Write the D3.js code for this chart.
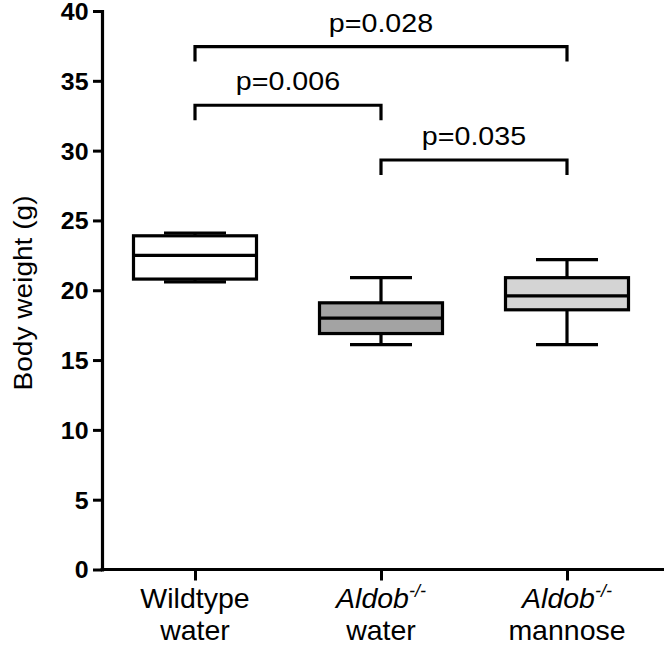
<!DOCTYPE html>
<html>
<head>
<meta charset="utf-8">
<script src="https://cdn.jsdelivr.net/npm/d3@7"></script>
<style>
  html, body { margin: 0; padding: 0; background: #fff; }
  svg { display: block; }
  text { font-family: "Liberation Sans", Arial, Helvetica, sans-serif; fill: #000; }
</style>
</head>
<body>
<script>
// ---- data ----
const categories = ["Wildtype water", "Aldob-/- water", "Aldob-/- mannose"];
const labelLine1 = ["Wildtype", "Aldob", "Aldob"];
const labelItalic = [false, true, true];
const labelSup = ["", "-/-", "-/-"];
const labelLine2 = ["water", "water", "mannose"];
const whiskerLow = [20.6, 16.1, 16.1];
const q1 = [20.8, 16.9, 18.6];
const median = [22.5, 18.0, 19.6];
const q3 = [23.9, 19.1, 20.9];
const whiskerHigh = [24.1, 20.9, 22.2];
const boxFill = ["#ffffff", "#a3a3a3", "#d4d4d4"];
const yTicks = [0, 5, 10, 15, 20, 25, 30, 35, 40];
const pFrom = [0, 0, 1];
const pTo = [2, 1, 2];
const pLevel = [37.45, 33.25, 29.33];
const pLabels = ["p=0.028", "p=0.006", "p=0.035"];

// ---- layout ----
const W = 664, H = 645;
const svg = d3.select("body").append("svg").attr("width", W).attr("height", H);

const y = d3.scaleLinear().domain([0, 40]).range([569.5, 11]);
const x = d3.scalePoint().domain(categories).range([195, 567]);
const axisX0 = 102;
const boxHalf = 61.5, capHalf = 31, lw = 3.2;

// y axis
const yAxis = d3.axisLeft(y).tickValues(yTicks).tickSize(9).tickSizeOuter(0).tickFormat(d3.format("d"));
const gy = svg.append("g").attr("transform", `translate(${axisX0},0)`).call(yAxis);
gy.attr("font-size", null).attr("font-family", null);
gy.select(".domain").attr("stroke", "#000").attr("stroke-width", 3.2).attr("stroke-linecap", "square");
gy.selectAll(".tick line").attr("stroke", "#000").attr("stroke-width", 3);
gy.selectAll(".tick text")
  .attr("x", 0).attr("dy", "0.36em")
  .attr("transform", "translate(-13.5,0) scale(1.06,1)")
  .style("font-size", "23.5px").style("font-weight", "bold")
  .style("font-family", "'Liberation Sans', Arial, sans-serif");

// x axis
const xAxis = d3.axisBottom(x).tickSize(11).tickSizeOuter(0).tickFormat("");
const gx = svg.append("g").attr("transform", `translate(0,${y(0)})`).call(xAxis);
gx.select(".domain").remove();
gx.selectAll(".tick line").attr("stroke", "#000").attr("stroke-width", 3);
svg.append("line")
  .attr("x1", axisX0 - 1.5).attr("x2", W).attr("y1", y(0)).attr("y2", y(0))
  .attr("stroke", "#000").attr("stroke-width", 3.2);

// x labels
categories.forEach((c, i) => {
  const cx = x(c);
  const t1 = svg.append("text")
    .attr("transform", `translate(${cx},608)`)
    .attr("text-anchor", "middle")
    .style("font-size", "28.5px");
  t1.append("tspan").text(labelLine1[i]).style("font-style", labelItalic[i] ? "italic" : "normal");
  if (labelSup[i]) {
    t1.append("tspan").text(labelSup[i]).attr("dy", "-11").style("font-size", "18px").style("font-style", "italic");
  }
  svg.append("text")
    .attr("transform", `translate(${cx},640)`)
    .attr("text-anchor", "middle")
    .style("font-size", "28.5px")
    .text(labelLine2[i]);
});

// y label
svg.append("text")
  .attr("transform", "translate(31.5,293) rotate(-90) scale(1.06,1)")
  .attr("text-anchor", "middle")
  .style("font-size", "26.5px")
  .text("Body weight (g)");

// boxes
const g = svg.append("g");
categories.forEach((c, i) => {
  const cx = x(c);
  g.append("line").attr("x1", cx).attr("x2", cx).attr("y1", y(q3[i])).attr("y2", y(whiskerHigh[i]))
    .attr("stroke", "#000").attr("stroke-width", lw);
  g.append("line").attr("x1", cx).attr("x2", cx).attr("y1", y(q1[i])).attr("y2", y(whiskerLow[i]))
    .attr("stroke", "#000").attr("stroke-width", lw);
  [whiskerHigh[i], whiskerLow[i]].forEach(v => {
    g.append("line").attr("x1", cx - capHalf).attr("x2", cx + capHalf).attr("y1", y(v)).attr("y2", y(v))
      .attr("stroke", "#000").attr("stroke-width", lw);
  });
  g.append("rect")
    .attr("x", cx - boxHalf).attr("width", boxHalf * 2)
    .attr("y", y(q3[i])).attr("height", y(q1[i]) - y(q3[i]))
    .attr("fill", boxFill[i]).attr("stroke", "#000").attr("stroke-width", lw);
  g.append("line").attr("x1", cx - boxHalf).attr("x2", cx + boxHalf).attr("y1", y(median[i])).attr("y2", y(median[i]))
    .attr("stroke", "#000").attr("stroke-width", lw);
});

// significance brackets
const legLen = 15;
pLabels.forEach((lab, i) => {
  const xa = x(categories[pFrom[i]]), xb = x(categories[pTo[i]]);
  const yy = y(pLevel[i]);
  svg.append("path")
    .attr("d", `M${xa},${yy + legLen}V${yy}H${xb}V${yy + legLen}`)
    .attr("fill", "none").attr("stroke", "#000").attr("stroke-width", lw)
    .attr("stroke-linejoin", "miter");
  svg.append("text")
    .attr("transform", `translate(${(xa + xb) / 2},${yy - 15}) scale(1.08,1)`)
    .attr("text-anchor", "middle")
    .style("font-size", "26.5px")
    .text(lab);
});
</script>
</body>
</html>
